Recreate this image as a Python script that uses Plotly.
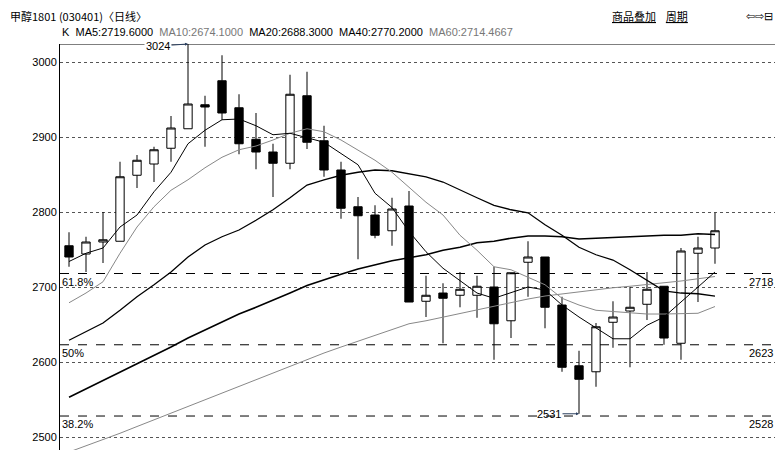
import plotly.graph_objects as go

# OHLC (daily candles)
opens = [2755, 2744, 2760, 2761, 2849, 2864, 2885, 2911, 2943, 2975, 2939, 2897, 2880,
         2865, 2955, 2895, 2856, 2807, 2796, 2775, 2808, 2681, 2692, 2689, 2689, 2700,
         2655, 2733, 2740, 2676, 2595, 2587, 2653, 2668, 2677, 2701, 2625, 2745, 2752]
highs = [2773, 2767, 2800, 2867, 2876, 2887, 2928, 3024, 2955, 3009, 2957, 2932, 2891,
         2983, 2987, 2915, 2867, 2820, 2809, 2819, 2828, 2715, 2705, 2720, 2715, 2727,
         2719, 2761, 2740, 2687, 2615, 2652, 2681, 2700, 2720, 2701, 2752, 2767, 2799]
lows = [2727, 2720, 2732, 2761, 2832, 2840, 2867, 2911, 2887, 2923, 2877, 2857, 2820,
        2857, 2884, 2847, 2791, 2737, 2765, 2755, 2680, 2660, 2625, 2673, 2659, 2603,
        2632, 2687, 2645, 2587, 2531, 2567, 2619, 2593, 2656, 2623, 2603, 2680, 2731]
closes = [2740, 2760, 2763, 2847, 2869, 2883, 2912, 2944, 2940, 2932, 2891, 2880, 2865,
          2957, 2893, 2856, 2805, 2795, 2769, 2804, 2680, 2689, 2685, 2697, 2701, 2651,
          2719, 2740, 2673, 2593, 2577, 2647, 2660, 2673, 2697, 2632, 2748, 2752, 2775]

ma5 = [2734, 2745, 2752, 2780, 2796, 2827, 2853, 2891, 2909, 2923, 2924, 2915, 2903,
       2905, 2899, 2893, 2878, 2863, 2825, 2806, 2774, 2747, 2725, 2709, 2692, 2685,
       2692, 2700, 2696, 2676, 2660, 2645, 2631, 2631, 2649, 2660, 2680, 2700, 2720]
ma10 = [2679, 2692, 2707, 2745, 2780, 2807, 2829, 2843, 2859, 2873, 2883, 2888, 2896,
        2905, 2911, 2907, 2896, 2883, 2869, 2853, 2833, 2813, 2796, 2769, 2749, 2727,
        2723, 2713, 2703, 2685, 2676, 2669, 2667, 2665, 2664, 2664, 2665, 2665, 2674]
ma20 = [2629, 2640, 2652, 2669, 2687, 2703, 2720, 2740, 2756, 2767, 2776, 2789, 2803,
        2819, 2836, 2843, 2849, 2853, 2856, 2855, 2851, 2847, 2840, 2829, 2819, 2809,
        2803, 2799, 2783, 2769, 2753, 2743, 2736, 2723, 2709, 2695, 2692, 2691, 2688]
ma40 = [2553, 2564, 2575, 2586, 2598, 2609, 2620, 2632, 2643, 2654, 2664, 2673, 2682,
        2692, 2702, 2710, 2717, 2724, 2730, 2735, 2739, 2743, 2749, 2753, 2759, 2761,
        2765, 2768, 2768, 2767, 2764, 2765, 2766, 2767, 2769, 2769, 2769, 2771, 2770]
ma60 = [2480, 2488, 2496, 2505, 2514, 2523, 2532, 2541, 2550, 2559, 2568, 2577, 2586,
        2595, 2603, 2612, 2620, 2628, 2636, 2644, 2651, 2655, 2660, 2664, 2669, 2674,
        2679, 2684, 2688, 2691, 2693, 2696, 2699, 2701, 2703, 2705, 2708, 2711, 2714]

fib_levels = [2718, 2623, 2528]
fib_pct = ['61.8%', '50%', '38.2%']
y_ticks = [2500, 2600, 2700, 2800, 2900, 3000]
legend_items = [('K', '#000'), ('MA5:2719.6000', '#000'), ('MA10:2674.1000', '#777'),
                ('MA20:2688.3000', '#000'), ('MA40:2770.2000', '#000'),
                ('MA60:2714.4667', '#777')]

idx = list(range(len(closes)))
font = 'Liberation Sans Narrow, Liberation Sans, Arial'

fig = go.Figure()
for vals, col, w in [(ma60, '#888', 1), (ma40, '#000', 1.6), (ma20, '#000', 1.3),
                     (ma10, '#888', 1), (ma5, '#000', 1)]:
    fig.add_trace(go.Scatter(x=idx, y=vals, mode='lines', line=dict(color=col, width=w),
                             hoverinfo='skip', showlegend=False))
fig.add_trace(go.Candlestick(
    x=idx, open=opens, high=highs, low=lows, close=closes, whiskerwidth=0,
    increasing=dict(fillcolor='white', line=dict(color='black', width=1)),
    decreasing=dict(fillcolor='black', line=dict(color='black', width=1)),
    showlegend=False))

for lvl, pct in zip(fib_levels, fib_pct):
    fig.add_hline(y=lvl, line=dict(color='black', width=1, dash='dash'))
    fig.add_annotation(x=0, xref='paper', y=lvl, text=pct, showarrow=False,
                       xanchor='left', yanchor='top', font=dict(size=11, color='#000'))
    fig.add_annotation(x=1, xref='paper', y=lvl, text=str(lvl), showarrow=False,
                       xanchor='right', yanchor='top', font=dict(size=11, color='#000'))
fig.add_hline(y=3024, line=dict(color='black', width=1))

hi_i = highs.index(max(highs))
lo_i = lows.index(min(lows))
fig.add_annotation(x=hi_i, y=max(highs), text=str(max(highs)), ax=-30, ay=2,
                   arrowhead=2, arrowsize=0.6, arrowwidth=1, font=dict(size=11),
                   yanchor='middle', bgcolor='white')
fig.add_annotation(x=lo_i, y=min(lows), text=str(min(lows)), ax=-30, ay=0,
                   arrowhead=2, arrowsize=0.6, arrowwidth=1, font=dict(size=11))

# header (figure is 767x442 so the page fits the window without scrollbars)
ph = 442 - 36
hdr = 1 + 28 / ph
fig.add_annotation(x=-52 / 715, xref='paper', y=hdr, yref='paper',
                   text='甲醇1801 (030401)〈日线〉', showarrow=False, xanchor='left',
                   yanchor='middle', font=dict(size=11, family='Noto Sans CJK SC', color='#000'))
fig.add_annotation(x=(690 - 60) / 715, xref='paper', y=hdr, yref='paper',
                   text='<u>商品叠加</u>    <u>周期</u>', showarrow=False, xanchor='right',
                   yanchor='middle', font=dict(size=11, family='Noto Sans CJK SC', color='#000'))
fig.add_annotation(x=1, xref='paper', y=hdr, yref='paper',
                   text='⇦⇨⊟', showarrow=False, xanchor='right', yanchor='middle',
                   font=dict(size=11, color='#000'))
legend_text = '  '.join(f'<span style="color:{c}">{t}</span>' for t, c in legend_items)
fig.add_annotation(x=0, xref='paper', y=1 + 12 / ph, yref='paper', text=legend_text,
                   showarrow=False, xanchor='left', yanchor='middle',
                   font=dict(size=11, family=font))

fig.update_layout(
    width=767, height=442, margin=dict(l=52, r=0, t=36, b=0),
    paper_bgcolor='white', plot_bgcolor='white',
    font=dict(family=font, size=11, color='#000'),
    xaxis=dict(range=[-0.53, 41.53], showgrid=False, showticklabels=False, zeroline=False,
               rangeslider=dict(visible=False), showline=False, fixedrange=True),
    yaxis=dict(range=[2482.7, 3024], tickvals=y_ticks, showgrid=True, gridcolor='#555',
               griddash='dot', gridwidth=1, zeroline=False, showline=True,
               linecolor='black', mirror=False, ticks='', ticklen=0,
               tickfont=dict(size=11)),
)
fig.write_html('out.html')
